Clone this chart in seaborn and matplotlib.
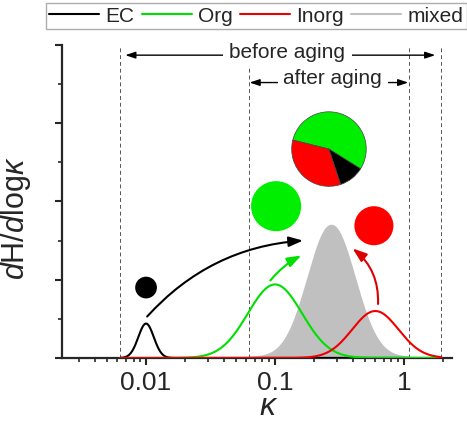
import numpy as np
import pandas as pd
import matplotlib
matplotlib.use('Agg')
import matplotlib.pyplot as plt
from matplotlib.ticker import LogLocator, NullFormatter, MultipleLocator
import seaborn as sns

## values (schematic lognormal modes in log10 kappa)
groups = ['EC', 'Org', 'Inorg', 'mixed']
colors = ['#000000', '#00e000', '#ee0000', '#c0c0c0']
peak_kappa = [0.01, 0.1, 0.6, 0.275]
peak_height = [0.44, 0.94, 0.60, 1.69]
log_sigma = [0.06, 0.21, 0.18, 0.18]
kappa_lo = [0.0063, 0.0063, 0.0063, 0.063]
kappa_hi = [1.95, 1.95, 1.95, 1.1]

dash_kappa = [0.0063, 0.063, 1.1, 1.95]
before_range = [0.0069, 1.75]
after_range = [0.0635, 1.08]

# single-particle dots (kappa, height, marker size)
dot_kappa = [0.01, 0.102, 0.585]
dot_y = [0.9, 1.94, 1.69]
dot_size = [245, 1300, 790]
dot_color = ['#000000', '#00ee00', '#ff0000']

# mixed particle composition
pie_frac = [0.55, 0.34, 0.11]
pie_color = ['#00ee00', '#ff0000', '#000000']

# shift arrows (start -> end)
arr_start = [(0.0102, 0.53), (0.092, 0.99), (0.63, 0.69)]
arr_end = [(0.165, 1.50), (0.16, 1.31), (0.40, 1.40)]
arr_rad = [-0.2, -0.1, 0.25]
arr_color = ['#000000', '#00e000', '#dd0000']

rows = []
for g, k0, h, s, lo, hi in zip(groups, peak_kappa, peak_height, log_sigma, kappa_lo, kappa_hi):
    lk = np.linspace(np.log10(lo), np.log10(hi), 400)
    for v in lk:
        rows.append((g, 10**v, h*np.exp(-0.5*((v-np.log10(k0))/s)**2)))
df = pd.DataFrame(rows, columns=['group', 'kappa', 'dH'])

sns.set_style('ticks')
plt.rcParams['font.family'] = ['Liberation Sans', 'DejaVu Sans']
plt.rcParams['mathtext.fontset'] = 'custom'
plt.rcParams['mathtext.rm'] = 'Liberation Sans'
plt.rcParams['mathtext.it'] = 'Liberation Sans:italic'

fig = plt.figure(figsize=(4.67, 4.27), dpi=100)
ax = fig.add_axes([0.1328, 0.1593, 0.8351, 0.733])

sns.lineplot(data=df, x='kappa', y='dH', hue='group', hue_order=groups,
             palette=colors, lw=1.5, ax=ax, legend=False)
ax.set_xscale('log')
mix = df[df.group == 'mixed']
ax.fill_between(mix.kappa, 0, mix.dH, color=colors[3], lw=0, zorder=1)
for ln in ax.lines:
    ln.set_zorder(3)
ax.lines[3].set_zorder(1)

for k in dash_kappa:
    ax.axvline(k, color='#555555', lw=0.7, ls=(0, (4, 3)), zorder=0)

ax.scatter(dot_kappa, dot_y, s=dot_size, c=dot_color, lw=0, zorder=4)

for (x0, y0), (x1, y1), r, c in zip(arr_start, arr_end, arr_rad, arr_color):
    ax.annotate('', xy=(x1, y1), xytext=(x0, y0),
                arrowprops=dict(arrowstyle='-|>,head_length=0.7,head_width=0.25',
                                color=c, lw=1.5, mutation_scale=12,
                                connectionstyle='arc3,rad=%s' % r,
                                shrinkA=0, shrinkB=0), zorder=5)

# aging ranges
ax.annotate('', xy=(before_range[0], 3.87), xytext=(before_range[1], 3.87),
            arrowprops=dict(arrowstyle='<|-|>,head_length=0.6,head_width=0.2',
                            color='black', lw=1, mutation_scale=10, shrinkA=0, shrinkB=0))
ax.text(0.125, 3.92, 'before aging', ha='center', va='center', fontsize=15,
        bbox=dict(fc='white', ec='none', pad=5))
ax.annotate('', xy=(after_range[0], 3.52), xytext=(after_range[1], 3.52),
            arrowprops=dict(arrowstyle='<|-|>,head_length=0.6,head_width=0.2',
                            color='black', lw=1, mutation_scale=10, shrinkA=0, shrinkB=0))
ax.text(0.28, 3.58, 'after aging', ha='center', va='center', fontsize=15,
        bbox=dict(fc='white', ec='none', pad=4))

# pie of the mixed particle
pax = ax.inset_axes([0.587, 0.546, 0.195, 0.243])
pax.pie(pie_frac, colors=pie_color, startangle=-32, counterclock=True,
        wedgeprops=dict(edgecolor='#444444', lw=0.5))
pax.set_xlim(-1.02, 1.02)
pax.set_ylim(-1.02, 1.02)
pax.set_aspect('equal')

ax.set_xlim(0.00223, 2.36)
ax.set_ylim(0, 4)
ax.set_xticks([0.01, 0.1, 1], ['0.01', '0.1', '1'])
ax.xaxis.set_minor_locator(LogLocator(base=10, subs=np.arange(2, 10)))
ax.xaxis.set_minor_formatter(NullFormatter())
ax.set_yticks(range(5), [''] * 5)
ax.yaxis.set_minor_locator(MultipleLocator(0.5))
ax.tick_params(which='major', direction='out', length=5, width=1.5, labelsize=19)
ax.tick_params(which='minor', direction='out', length=3, width=1.2)
for s in ['left', 'bottom']:
    ax.spines[s].set_linewidth(1.6)
sns.despine(ax=ax)

ax.set_xlabel(r'$\kappa$', fontsize=23)
ax.set_ylabel(r'$d$H/$d$log$\kappa$', fontsize=22)
ax.yaxis.set_label_coords(-0.075, 0.45)
ax.xaxis.set_label_coords(0.53, -0.105)

fig.legend(handles=ax.lines[:4], labels=groups, loc='upper center',
           bbox_to_anchor=(0.549, 0.99), ncol=4, fontsize=15, frameon=True,
           fancybox=False, edgecolor='#999999', handlelength=2.4,
           handletextpad=0.3, columnspacing=0.35, borderpad=0.15,
           borderaxespad=0)

plt.savefig('out.png', dpi=100)
